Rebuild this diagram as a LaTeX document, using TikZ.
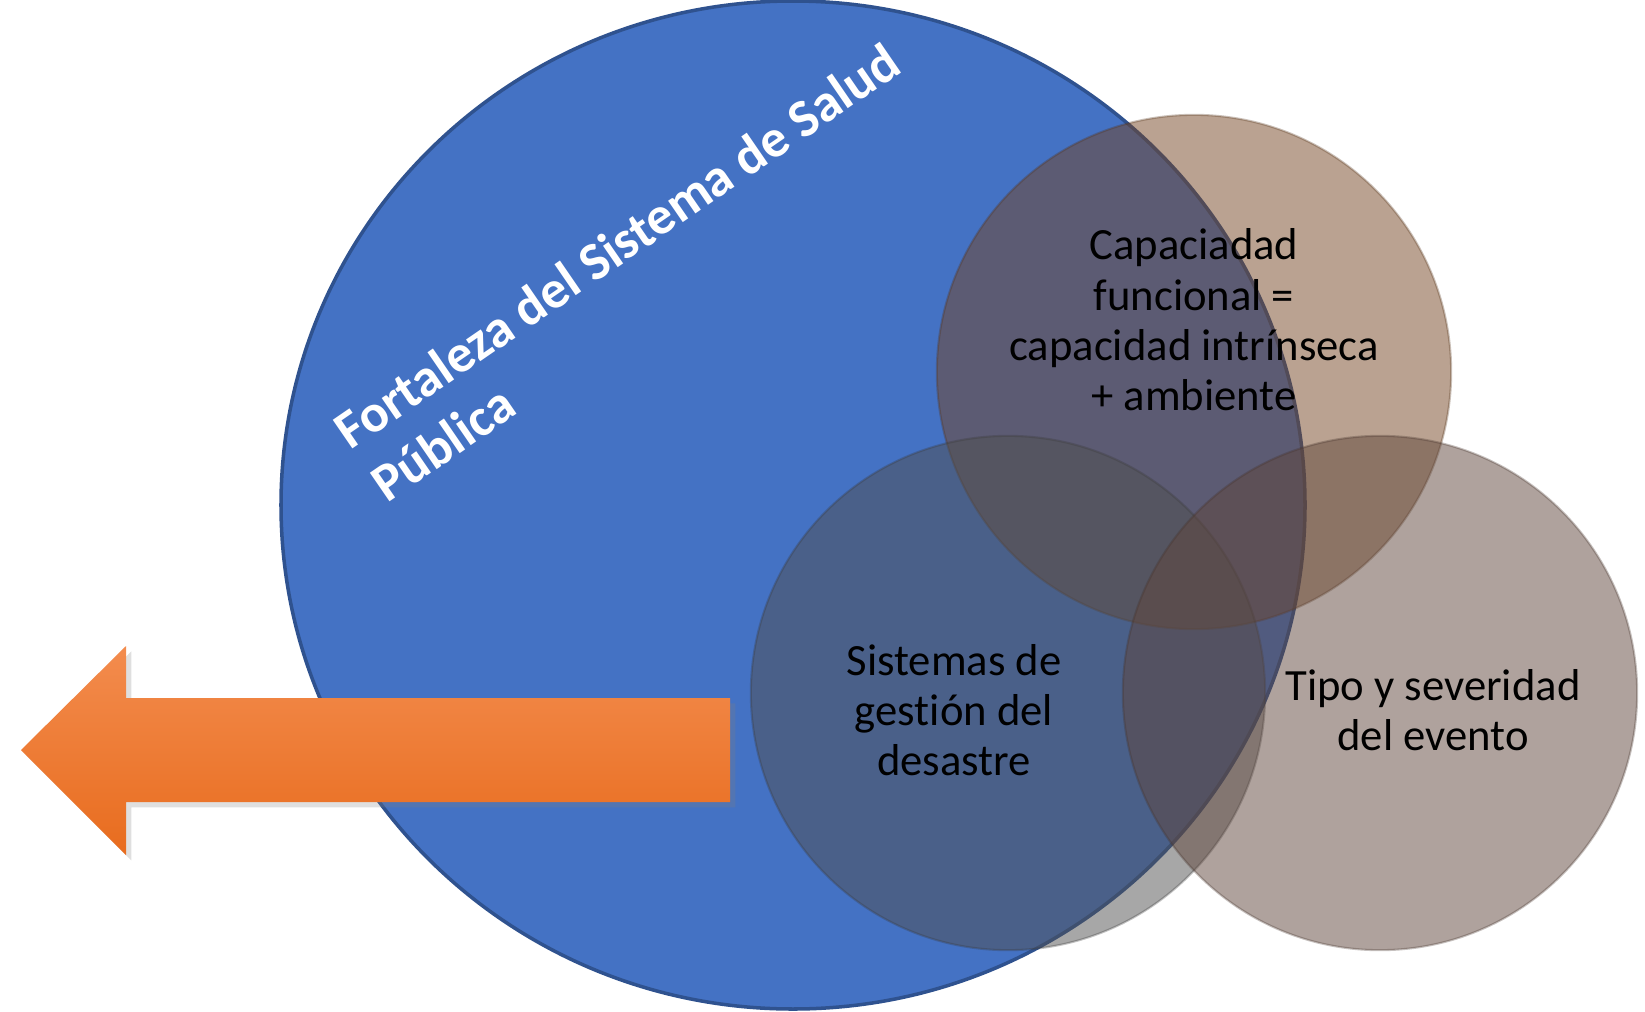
\documentclass[tikz,border=0pt]{standalone}
\usepackage{fontspec}
\setmainfont{Carlito}[Ligatures=NoCommon]
\usetikzlibrary{shadows}
\definecolor{fortaleza}{RGB}{68,114,196}
\definecolor{fortalezaborde}{RGB}{47,82,143}
\definecolor{capcolor}{RGB}{117,70,35}
\definecolor{gestcolor}{RGB}{80,80,80}
\definecolor{tipocolor}{RGB}{95,70,60}
\definecolor{flechaclara}{RGB}{243,140,78}
\definecolor{flechaoscura}{RGB}{232,108,30}

\tikzset{
  venn/.style={circle, minimum size=5.14cm, inner sep=0pt, fill=#1, fill opacity=0.5,
    draw=#1!70!black, draw opacity=0.3, line width=0.6pt},
  etiqueta/.style={align=center, inner sep=0pt, text=black,
    font=\fontsize{12.7pt}{14.3pt}\selectfont},
}

\begin{document}
\begin{tikzpicture}[x=0.01cm, y=-0.01cm]
        \useasboundingbox (0,0) rectangle (1645,1012);
        \filldraw[fill=fortaleza, draw=fortalezaborde, line width=1pt] (793,505) ellipse [x radius=512, y radius=504];
        \node[rotate=34.5, text=white, align=left, inner sep=0pt,
              font=\bfseries\fontsize{15.2pt}{18.2pt}\selectfont] (titulo) at (635,272)
              {Fortaleza del Sistema de Salud\\Pública};
        \shade[top color=flechaclara, bottom color=flechaoscura,
               drop shadow={shadow xshift=1.5pt, shadow yshift=-1.5pt, opacity=0.25}]
              (730,698) -- (126,698) -- (126,646) -- (21,750) -- (126,855) -- (126,802) -- (730,802) -- cycle;
        \node[venn=capcolor] (capacidad) at (1194,372) {};
        \node[venn=gestcolor] (gestion) at (1008,693) {};
        \node[venn=tipocolor] (tipo) at (1380,693) {};
        \node[etiqueta] (capacidad-txt) at (1194,320) {Capaciadad\\funcional =\\capacidad intrínseca\\+ ambiente};
        \node[etiqueta] (gestion-txt) at (954,710) {Sistemas de\\gestión del\\desastre};
        \node[etiqueta] (tipo-txt) at (1433,710) {Tipo y severidad\\del evento};
\end{tikzpicture}
\end{document}
